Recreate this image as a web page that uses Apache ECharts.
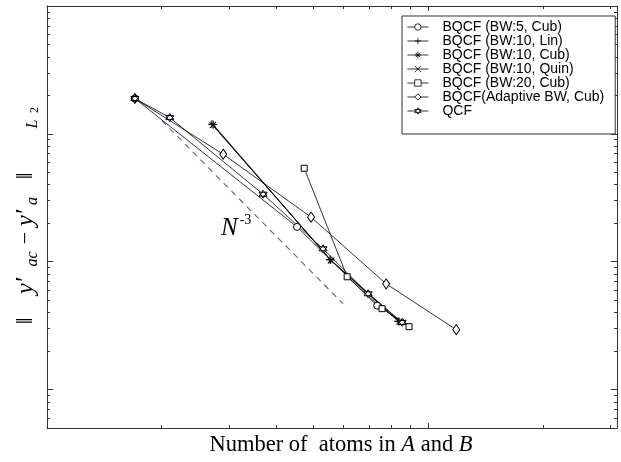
<!doctype html>
<html lang="en">
  <head>
    <meta charset="utf-8">
    <title>BQCF error vs number of atoms</title>
    <script src="https://cdn.jsdelivr.net/npm/echarts@6.0.0/dist/echarts.min.js"></script>
    <style>
      html, body { margin: 0; padding: 0; background: #fff; }
      #chart { width: 621px; height: 462px; }
    </style>
  </head>
  <body>
    <div id="chart"></div>

  <script>
    // data (log-log)
    var bw5Cub    = [[170, 1.89e-3], [453, 1.87e-4], [735, 4.53e-5]];
    var bw10Lin   = [[271, 1.19e-3], [553, 1.04e-4], [834, 3.42e-5]];
    var bw10Cub   = [[273, 1.18e-3], [555, 1.03e-4], [839, 3.40e-5]];
    var bw10Quin  = [[272, 1.17e-3], [557, 1.02e-4], [849, 3.38e-5]];
    var bw20Cub   = [[473, 5.38e-4], [613, 7.62e-5], [757, 4.29e-5], [891, 3.10e-5]];
    var adaptive  = [[170, 1.89e-3], [290, 6.92e-4], [493, 2.23e-4], [776, 6.71e-5], [1185, 2.94e-5]];
    var qcf       = [[170, 1.89e-3], [210, 1.34e-3], [369, 3.37e-4], [530, 1.26e-4], [696, 5.61e-5], [855, 3.35e-5]];
    var refLine   = [[200, 1.27e-3], [598, 4.69e-5]];

    var seriesNames = ['BQCF (BW:5, Cub)', 'BQCF (BW:10, Lin)', 'BQCF (BW:10, Cub)',
      'BQCF (BW:10, Quin)', 'BQCF (BW:20, Cub)', 'BQCF(Adaptive BW, Cub)', 'QCF'];

    // axis extents and ticks
    var xMin = 100, xMax = 3130;
    var yMin = 5e-6, yMax = 1e-2;
    var xMajor = [1000];
    var xMinor = [200, 300, 400, 500, 600, 700, 800, 900, 2000, 3000];
    var yMajor = [1e-5, 1e-4, 1e-3];
    var yMinor = [6e-6, 7e-6, 8e-6, 9e-6,
      2e-5, 3e-5, 4e-5, 5e-5, 6e-5, 7e-5, 8e-5, 9e-5,
      2e-4, 3e-4, 4e-4, 5e-4, 6e-4, 7e-4, 8e-4, 9e-4,
      2e-3, 3e-3, 4e-3, 5e-3, 6e-3, 7e-3, 8e-3, 9e-3];

    var lg = function (v) { return Math.log10(v); };

    var symPlus = 'path://M5,0L5,10M0,5L10,5';
    var symCross = 'path://M0,0L10,10M10,0L0,10';
    var symStar = 'path://M5,0L5,10M0,5L10,5M1.5,1.5L8.5,8.5M8.5,1.5L1.5,8.5';
    var symHex = 'path://M5,0L9.33,7.5L0.67,7.5ZM5,10L0.67,2.5L9.33,2.5Z';

    var frame = '#333';
    var serif = '"Liberation Serif", "DejaVu Serif", serif';

    // helper tick axes in log10 units
    function tickAxis(pos, dim, values, len, showLine, extra) {
      var a = {
        type: 'value',
        position: pos,
        min: dim === 'x' ? lg(xMin) : lg(yMin),
        max: dim === 'x' ? lg(xMax) : lg(yMax),
        axisLine: { show: showLine, lineStyle: { color: frame, width: 1 } },
        axisTick: { show: true, inside: true, length: len, customValues: values.map(lg),
          lineStyle: { color: frame, width: 1 } },
        axisLabel: { show: false },
        splitLine: { show: false }
      };
      for (var k in extra) a[k] = extra[k];
      return a;
    }

    var xName = {
      name: '{t|Number of  atoms in }{i|A}{t| and }{i|B}',
      nameLocation: 'middle',
      nameGap: 6,
      nameTextStyle: {
        padding: [0, 0, 0, 18],
        rich: {
          t: { fontFamily: serif, fontSize: 22.5, color: '#000' },
          i: { fontFamily: serif, fontSize: 22.5, fontStyle: 'italic', color: '#000' }
        }
      }
    };

    // y title pieces, spaced along the axis like the original
    var ys = function (size, italic, w, va) {
      return { fontFamily: serif, fontSize: size, fontStyle: italic ? 'italic' : 'normal', color: '#000',
        width: w, align: 'center', lineHeight: 30, verticalAlign: va || 'middle' };
    };
    var yName = {
      name: '{nb|\u2016}{s1| }{y1|y\u2032}{ac|ac}{mi|\u2212}{y2|y\u2032}{a|a}{s2| }{nb2|\u2016}{s3| }{L|L}{two|2}',
      nameLocation: 'middle',
      nameRotate: 90,
      nameGap: 6,
      nameTextStyle: {
        verticalAlign: 'bottom',
        rich: {
          nb: ys(24, false, 20),
          s1: ys(10, false, 11),
          y1: ys(25, true, 28),
          ac: ys(16, true, 26, 'bottom'),
          mi: ys(22, false, 16),
          y2: ys(25, true, 24),
          a: ys(16, true, 10, 'bottom'),
          s2: ys(10, false, 10),
          nb2: ys(24, false, 20),
          s3: ys(10, false, 35),
          L: ys(16, true, 14, 'bottom'),
          two: ys(12, false, 14, 'bottom')
        }
      }
    };

    function mk(name, data, symbol, size, filled) {
      return {
        name: name,
        type: 'line',
        data: data,
        symbol: symbol,
        symbolSize: size,
        showAllSymbol: true,
        lineStyle: { color: '#000', width: 0.8 },
        itemStyle: { color: filled ? '#000' : '#fff', borderColor: '#000', borderWidth: 1 },
        emphasis: { disabled: true },
        animation: false,
        z: 3
      };
    }

    var chart = echarts.init(document.getElementById('chart'), null, { renderer: 'canvas' });

    var option = {
      animation: false,
      backgroundColor: '#fff',
      grid: { left: 47, right: 4, top: 6, bottom: 32 },
      legend: {
        data: seriesNames,
        orient: 'vertical',
        left: 402,
        top: 16,
        padding: [4, 11, 16, 5],
        itemWidth: 21,
        itemHeight: 8,
        itemGap: 0,
        borderColor: frame,
        borderWidth: 1,
        backgroundColor: '#fff',
        lineStyle: { width: 0.8 },
        itemStyle: { borderWidth: 0.8 },
        textStyle: { fontFamily: '"Liberation Sans", Arial, sans-serif', fontSize: 14, color: '#000',
          lineHeight: 13.4, padding: [0, 0, 0, 9] },
        z: 10
      },
      xAxis: [
        { type: 'log', logBase: 10, min: xMin, max: xMax, show: false },
        tickAxis('bottom', 'x', xMajor, 5, true, xName),
        tickAxis('bottom', 'x', xMinor, 3, false),
        tickAxis('top', 'x', xMajor, 5, true),
        tickAxis('top', 'x', xMinor, 3, false)
      ],
      yAxis: [
        { type: 'log', logBase: 10, min: yMin, max: yMax, show: false },
        tickAxis('left', 'y', yMajor, 6, true, yName),
        tickAxis('left', 'y', yMinor, 3, false),
        tickAxis('right', 'y', yMajor, 6, true),
        tickAxis('right', 'y', yMinor, 3, false)
      ],
      graphic: [
        {
          type: 'text',
          left: 221,
          top: 213,
          style: {
            text: '{n|N}{s|-3}',
            rich: {
              n: { fontFamily: serif, fontSize: 25, fontStyle: 'italic', fill: '#000', lineHeight: 28, verticalAlign: 'bottom' },
              s: { fontFamily: serif, fontSize: 14, fill: '#000', lineHeight: 28, verticalAlign: 'top', padding: [0, 0, 0, 2] }
            }
          }
        }
      ],
      series: [
        mk(seriesNames[0], bw5Cub, 'circle', 7, false),
        mk(seriesNames[1], bw10Lin, symPlus, 8, false),
        mk(seriesNames[2], bw10Cub, symStar, 8, false),
        mk(seriesNames[3], bw10Quin, symCross, 6, false),
        mk(seriesNames[4], bw20Cub, 'rect', 6, false),
        mk(seriesNames[5], adaptive, 'diamond', [7, 10], false),
        mk(seriesNames[6], qcf, symHex, 8, false),
        {
          name: 'N-3',
          type: 'line',
          data: refLine,
          symbol: 'none',
          lineStyle: { color: '#3d6bb3', width: 1.1, type: [6, 5] },
          emphasis: { disabled: true },
          z: 2
        }
      ]
    };

    chart.setOption(option);
  </script>
  </body>
</html>
